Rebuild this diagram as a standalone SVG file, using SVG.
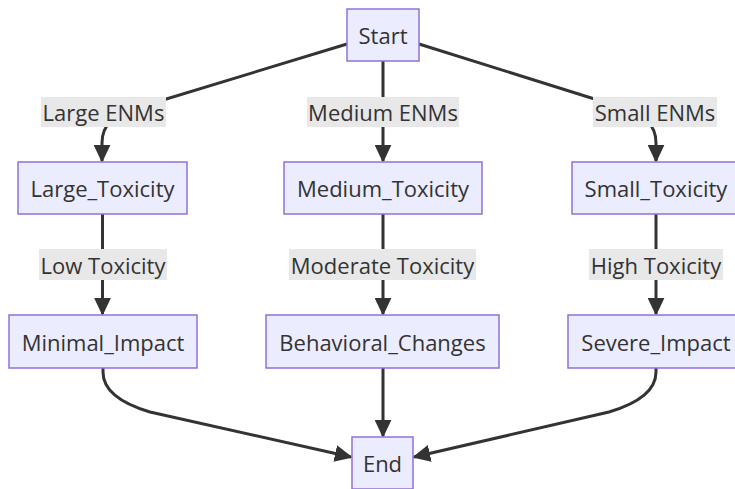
<svg xmlns="http://www.w3.org/2000/svg" width="735" height="489" viewBox="0 0 735 489">
<defs>
<marker id="arrow" viewBox="0 0 10 10" refX="9" refY="5" markerUnits="userSpaceOnUse" markerWidth="18" markerHeight="17" orient="auto" preserveAspectRatio="none">
<path d="M0,0 L10,5 L0,10 z" fill="#333333"/>
</marker>
</defs>
<style>
.node rect { fill: #ECECFF; stroke: #9370DB; stroke-width: 1.5; }
.node text { font-family: "Open Sans", "Noto Sans", sans-serif; font-size: 22px; fill: #333333; text-anchor: middle; dominant-baseline: central; }
.edge { fill: none; stroke: #333333; stroke-width: 3; marker-end: url(#arrow); }
.lbl rect { fill: #E8E8E8; }
.lbl text { font-family: "Open Sans", "Noto Sans", sans-serif; font-size: 22px; fill: #333333; text-anchor: middle; dominant-baseline: central; }
</style>
<rect width="735" height="489" fill="#ffffff"/>
<g id="connectors">
<path class="edge" d="M347,44 L140,107 C112,116 102,125 102,143 L102,161"/>
<path class="edge" d="M383,61 L383,161"/>
<path class="edge" d="M419,44 L620,107 C646,116 656,125 656,143 L656,161"/>
<path class="edge" d="M102.5,214 L102.5,314"/>
<path class="edge" d="M383,214 L383,314"/>
<path class="edge" d="M656,214 L656,314"/>
<path class="edge" d="M103,368 L103,372 Q103,398 150,412 L351,457"/>
<path class="edge" d="M383,368 L383,436"/>
<path class="edge" d="M656,368 L656,372 Q656,398 609,412 L414,457"/>
</g>
<g id="edge-labels">
<g class="lbl"><rect x="41" y="97" width="125" height="30"/><text x="103.5" y="112">Large ENMs</text></g>
<g class="lbl"><rect x="307" y="97" width="152" height="30"/><text x="383" y="112">Medium ENMs</text></g>
<g class="lbl"><rect x="593" y="97" width="124" height="30"/><text x="655" y="112">Small ENMs</text></g>
<g class="lbl"><rect x="39" y="249" width="128" height="31"/><text x="103" y="264.5">Low Toxicity</text></g>
<g class="lbl"><rect x="289" y="249" width="187" height="31"/><text x="382.5" y="264.5">Moderate Toxicity</text></g>
<g class="lbl"><rect x="589" y="249" width="134" height="31"/><text x="656" y="264.5">High Toxicity</text></g>
</g>
<g id="Start" class="node"><rect x="347" y="9" width="72" height="52"/><text x="383" y="35">Start</text></g>
<g id="Large_Toxicity" class="node"><rect x="18" y="162" width="169" height="52"/><text x="102.5" y="188">Large_Toxicity</text></g>
<g id="Medium_Toxicity" class="node"><rect x="284" y="162" width="198" height="52"/><text x="383" y="188">Medium_Toxicity</text></g>
<g id="Small_Toxicity" class="node"><rect x="572" y="162" width="168" height="52"/><text x="656" y="188">Small_Toxicity</text></g>
<g id="Minimal_Impact" class="node"><rect x="9" y="315" width="188" height="53"/><text x="103" y="341.5">Minimal_Impact</text></g>
<g id="Behavioral_Changes" class="node"><rect x="266" y="315" width="233" height="53"/><text x="382.5" y="341.5">Behavioral_Changes</text></g>
<g id="Severe_Impact" class="node"><rect x="568" y="315" width="176" height="53"/><text x="656" y="341.5">Severe_Impact</text></g>
<g id="End" class="node"><rect x="352" y="437" width="61" height="52"/><text x="382.5" y="463">End</text></g>
</svg>
